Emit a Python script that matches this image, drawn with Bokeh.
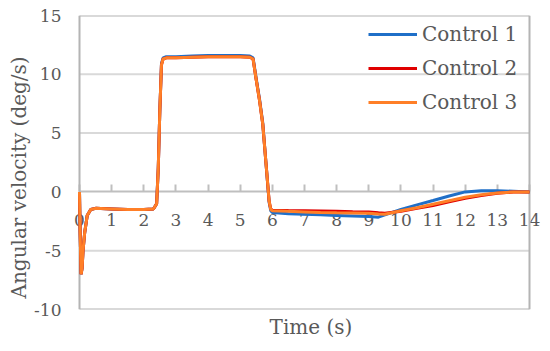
from bokeh.plotting import figure
from bokeh.models import Range1d, FixedTicker, Legend, LegendItem, ColumnDataSource, Title, Span
from bokeh.embed import file_html
from bokeh.resources import INLINE

# ---- data ----
time_s = [0, 0.02, 0.05, 0.08, 0.11, 0.16, 0.24, 0.35, 0.5, 1.0, 1.5, 2.0, 2.3, 2.4, 2.45,
          2.5, 2.55, 2.6, 2.7, 3.0, 3.5, 4.0, 4.5, 5.0, 5.3, 5.4, 5.5, 5.6, 5.7, 5.8,
          5.9, 5.95, 6.0, 6.5, 7.0, 7.5, 8.0, 8.5, 9.0, 9.3, 9.5, 10.0, 10.5, 11.0,
          11.5, 12.0, 12.5, 13.0, 13.5, 14.0]

control_1 = [0, -3.5, -7.0, -6.5, -5.0, -3.5, -2.0, -1.5, -1.4, -1.45, -1.5, -1.5, -1.45, -1.0, 2.0,
             7.0, 10.9, 11.4, 11.5, 11.5, 11.55, 11.6, 11.6, 11.6, 11.55, 11.4, 9.6, 7.9, 5.9, 2.5,
             -0.9, -1.6, -1.75, -1.85, -1.9, -1.95, -2.0, -2.05, -2.1, -2.15, -1.95, -1.5, -1.1, -0.73,
             -0.35, 0.0, 0.1, 0.1, 0.05, 0.0]

control_2 = [0, -3.5, -7.0, -6.5, -5.0, -3.5, -2.0, -1.5, -1.4, -1.45, -1.5, -1.5, -1.45, -1.0, 2.0,
             7.0, 10.8, 11.3, 11.4, 11.4, 11.45, 11.5, 11.5, 11.5, 11.45, 11.3, 9.5, 7.8, 5.8, 2.5,
             -0.8, -1.45, -1.55, -1.58, -1.6, -1.62, -1.65, -1.68, -1.7, -1.78, -1.82, -1.65, -1.4, -1.15,
             -0.85, -0.55, -0.3, -0.12, 0.0, 0.0]

control_3 = [0, -3.5, -7.0, -6.5, -5.0, -3.5, -2.0, -1.5, -1.4, -1.45, -1.5, -1.5, -1.45, -1.0, 2.0,
             7.0, 10.8, 11.3, 11.4, 11.4, 11.45, 11.5, 11.5, 11.5, 11.45, 11.3, 9.5, 7.8, 5.8, 2.5,
             -0.8, -1.5, -1.6, -1.65, -1.7, -1.75, -1.78, -1.8, -1.82, -1.88, -1.9, -1.6, -1.35, -1.05,
             -0.75, -0.45, -0.25, -0.1, 0.0, 0.0]

series_names = ["Control 1", "Control 2", "Control 3"]
series_colors = ["#1f6fc8", "#e00000", "#ff7f27"]

x_ticks = list(range(0, 15))
x_tick_labels = [str(v) for v in x_ticks]
y_ticks = [-10, -5, 0, 5, 10, 15]
y_tick_labels = ["-10", "-5", "0", "5", "10", "15"]
X_MIN, X_MAX = 0, 14
Y_MIN, Y_MAX = -10, 15

FONT = "DejaVu Serif"
TEXT = "#595959"
BORDER = "#b4b4b4"
GRID = "#d9d9d9"

# layout: plotted area spans 0..14 over 450 px; the frame is a little wider
# so that the "0" and "14" tick labels are not clipped
W, H = 550, 351
LEFT_PAD_PX, RIGHT_PAD_PX = 8, 21
PX_PER_UNIT = 450 / (X_MAX - X_MIN)
x_start = X_MIN - LEFT_PAD_PX / PX_PER_UNIT
x_end = X_MAX + RIGHT_PAD_PX / PX_PER_UNIT

p = figure(width=W, height=H,
           x_range=Range1d(x_start, x_end), y_range=Range1d(Y_MIN, Y_MAX),
           output_backend="svg", toolbar_location=None,
           min_border_left=79 - LEFT_PAD_PX, min_border_right=0,
           min_border_top=15, min_border_bottom=42)

p.background_fill_color = "white"
p.border_fill_color = "white"
p.outline_line_color = None

# y axis (labels only)
p.yaxis.ticker = FixedTicker(ticks=y_ticks)
p.yaxis.major_label_overrides = {t: l for t, l in zip(y_ticks, y_tick_labels)}
p.yaxis.axis_line_color = None
p.yaxis.major_tick_line_color = None
p.yaxis.minor_tick_line_color = None
p.yaxis.major_tick_out = 0
p.yaxis.major_tick_in = 0
p.yaxis.major_label_standoff = 18 - LEFT_PAD_PX
p.yaxis.major_label_text_font = FONT
p.yaxis.major_label_text_font_size = "17px"
p.yaxis.major_label_text_color = TEXT

p.add_layout(Title(text="Angular velocity (deg/s)", align="left", text_font=FONT,
                   text_font_size="20px", text_font_style="normal", text_color=TEXT,
                   standoff=1, offset=11), "left")

# x axis drawn across the plot at y = 0, ticks pointing up, labels below
p.xaxis.fixed_location = 0
p.xaxis.bounds = (X_MIN, X_MAX)
p.xaxis.level = "underlay"
p.xaxis.ticker = FixedTicker(ticks=x_ticks)
p.xaxis.major_label_overrides = {t: l for t, l in zip(x_ticks, x_tick_labels)}
p.xaxis.axis_line_color = "#bfbfbf"
p.xaxis.axis_line_width = 2
p.xaxis.major_tick_line_color = "#bfbfbf"
p.xaxis.major_tick_line_width = 2
p.xaxis.minor_tick_line_color = None
p.xaxis.major_tick_out = 0
p.xaxis.major_tick_in = 7
p.xaxis.major_label_standoff = 22
p.xaxis.major_label_text_font = FONT
p.xaxis.major_label_text_font_size = "17px"
p.xaxis.major_label_text_color = TEXT

p.add_layout(Title(text="Time (s)", align="center", text_font=FONT, text_font_size="20px",
                   text_font_style="normal", text_color=TEXT, standoff=6), "below")

# grid lines only across 0..14; the outer ones form the plot border
p.xgrid.grid_line_color = None
p.ygrid.grid_line_color = None
grid_y = [t for t in y_ticks if t != 0]
grid_col = [BORDER if t in (Y_MIN, Y_MAX) else GRID for t in grid_y]
p.segment(x0=[X_MIN] * len(grid_y), y0=grid_y, x1=[X_MAX] * len(grid_y), y1=grid_y,
          line_color=grid_col, line_width=2, level="underlay")
p.add_layout(Span(location=X_MIN, dimension="height", line_color=BORDER, line_width=2,
                  level="underlay"))
p.add_layout(Span(location=X_MAX, dimension="height", line_color=BORDER, line_width=2,
                  level="underlay"))

renderers = []
for name, ys, col in zip(series_names, [control_1, control_2, control_3], series_colors):
    src = ColumnDataSource(dict(t=time_s, v=ys))
    r = p.line("t", "v", source=src, line_color=col, line_width=3)
    renderers.append((name, r))

legend = Legend(items=[LegendItem(label=n, renderers=[r]) for n, r in renderers],
                location=(368 - (79 - LEFT_PAD_PX), 309 - 114))
legend.border_line_color = None
legend.background_fill_alpha = 0
legend.label_text_font = FONT
legend.label_text_font_size = "20px"
legend.label_text_color = TEXT
legend.glyph_width = 49
legend.glyph_height = 24
legend.label_height = 24
legend.label_width = 100
legend.label_standoff = 5
legend.spacing = 10
legend.padding = 4
legend.margin = 0
p.add_layout(legend)

open("out.html", "w").write(file_html(p, INLINE))
